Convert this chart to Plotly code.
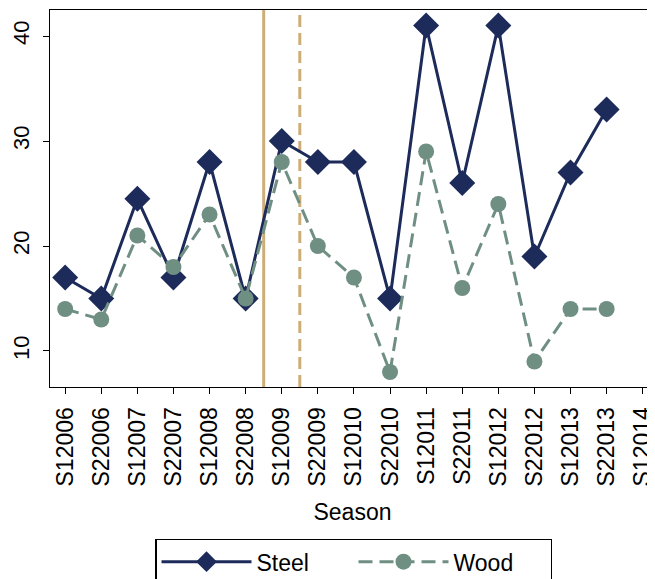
import plotly.graph_objects as go

seasons = ['S12006', 'S22006', 'S12007', 'S22007', 'S12008', 'S22008',
           'S12009', 'S22009', 'S12010', 'S22010', 'S12011', 'S22011',
           'S12012', 'S22012', 'S12013', 'S22013', 'S12014']
steel = [17, 15, 24.5, 17, 28, 15, 30, 28, 28, 15, 41, 26, 41, 19, 27, 33, None]
wood = [14, 13, 21, 18, 23, 15, 28, 20, 17, 8, 29, 16, 24, 9, 14, 14, None]
y_ticks = [10, 20, 30, 40]

navy = '#1c2b59'
green = '#6f8f83'
tan = '#cdae78'
font = 'Liberation Sans, Arial, sans-serif'

fig = go.Figure()
fig.add_trace(go.Scatter(x=seasons, y=steel, name='Steel', mode='lines+markers',
                         line=dict(color=navy, width=3),
                         marker=dict(symbol='diamond', size=20, color=navy)))
fig.add_trace(go.Scatter(x=seasons, y=wood, name='Wood', mode='lines+markers',
                         line=dict(color=green, width=3, dash='14px,7px'),
                         marker=dict(symbol='circle', size=16, color=green)))

# vertical reference lines between seasons
for pos, dash in [(seasons.index('S12009') - 0.5, 'solid'),
                  (seasons.index('S22009') - 0.5, '12px,6px')]:
    fig.add_shape(type='line', xref='x', yref='paper', x0=pos, x1=pos, y0=0, y1=1,
                  line=dict(color=tan, width=3, dash=dash), layer='below')

fig.update_xaxes(type='category', categoryorder='array', categoryarray=seasons,
                 range=[-0.42, 16.34], tickangle=-90, ticks='outside', ticklen=6,
                 tickcolor='black', showline=True, linecolor='black', mirror=True,
                 showgrid=False, automargin=False, ticklabelstandoff=4,
                 tickfont=dict(size=23, color='black'),
                 title=dict(text='Season', font=dict(size=23, color='black'), standoff=18))
fig.update_yaxes(range=[6.57, 42.48], tickvals=y_ticks, tickangle=-90, ticks='outside',
                 ticklen=6, tickcolor='black', showline=True, linecolor='black',
                 mirror=True, showgrid=False, zeroline=False, automargin=False,
                 ticklabelstandoff=5, tickfont=dict(size=22, color='black'))

# page body adds ~8px offset, margins compensate for it
fig.update_layout(width=655, height=579, plot_bgcolor='white', paper_bgcolor='white',
                  margin=dict(l=42, r=8, t=2, b=200),
                  font=dict(family=font, color='black'),
                  legend=dict(orientation='h', x=0.502, xanchor='center', y=-0.403,
                              yanchor='top', bordercolor='black', borderwidth=1.3,
                              font=dict(size=23), itemwidth=90, entrywidth=92))

fig.write_html('out.html')
